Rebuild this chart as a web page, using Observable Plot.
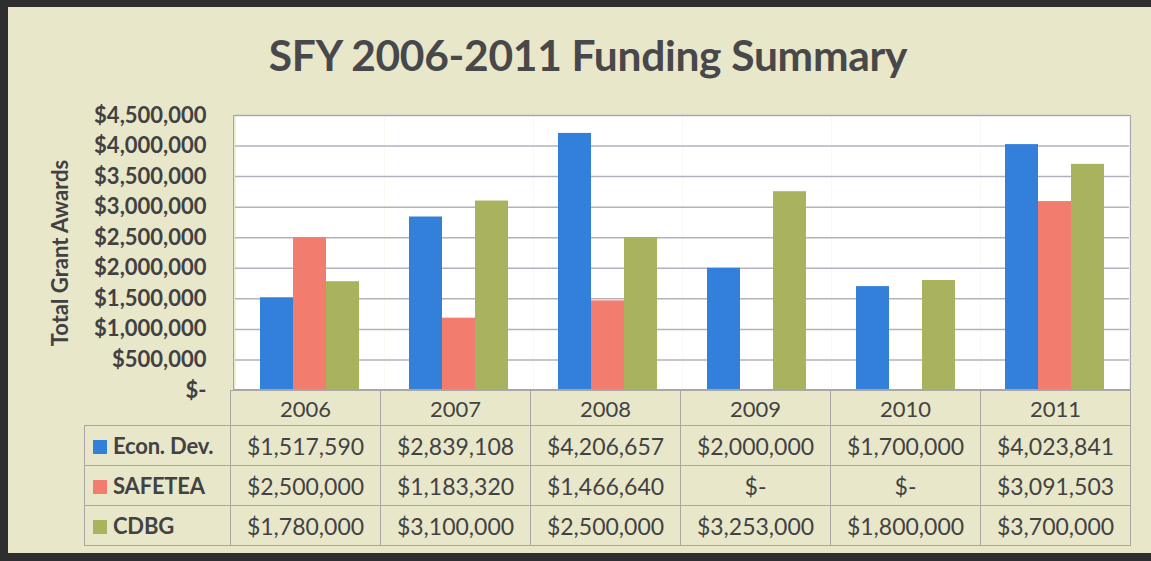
<!DOCTYPE html>
<html>
<head>
<meta charset="utf-8">
<script src="https://cdn.jsdelivr.net/npm/d3@7"></script>
<script src="https://cdn.jsdelivr.net/npm/@observablehq/plot@0.6"></script>
<style>
  html, body { margin: 0; padding: 0; background: #2e2e30; }
  #wrap { position: relative; width: 1151px; height: 561px; overflow: hidden; }
  #panel { position: absolute; left: 8px; top: 7px; width: 1143px; height: 546px; background: #e9e7c9; }
  #title { position: absolute; left: 0; top: 29px; width: 1176px; text-align: center;
           font-family: Lato, "Open Sans", sans-serif; font-weight: 700; font-size: 42.5px; color: #48484a; letter-spacing: -0.3px; }
  #chart { position: absolute; left: 0; top: 0; }
  #plotborder { position: absolute; left: 233px; top: 115px; width: 898px; height: 275px; border: 1px solid #a8a4a8; box-sizing: border-box; pointer-events: none; }
  table#data { position: absolute; left: 84px; top: 390px; border-collapse: collapse;
               font-family: Lato, "Open Sans", sans-serif; font-size: 23px; color: #424244; }
  table#data td { border: 1.5px solid #aaa6a4; text-align: center; padding: 0; height: 39px; width: 149px; white-space: nowrap; }
  table#data tr.head td { height: 34px; font-size: 22px; }
  table#data td.blank { border: none; border-bottom: 1.5px solid #aaa6a4; border-right: 1.5px solid #aaa6a4; width: 145px; }
  table#data td.lab { text-align: left; padding-left: 8px; font-weight: 700; width: 137px; font-size: 22px; letter-spacing: -0.2px; }
  .key { display: inline-block; width: 14px; height: 14px; margin-right: 6px; vertical-align: 0px; }
</style>
</head>
<body>
<div id="wrap">
  <div id="panel"></div>
  <div id="title">SFY 2006-2011 Funding Summary</div>
  <div id="chart"></div>
  <div id="plotborder"></div>
  <table id="data"></table>
</div>
<script>
const years = ["2006", "2007", "2008", "2009", "2010", "2011"];
const seriesNames = ["Econ. Dev.", "SAFETEA", "CDBG"];
const seriesColors = ["#3280da", "#f27c6e", "#a9b35d"];
const econDev = [1517590, 2839108, 4206657, 2000000, 1700000, 4023841];
const safetea = [2500000, 1183320, 1466640, 0, 0, 3091503];
const cdbg = [1780000, 3100000, 2500000, 3253000, 1800000, 3700000];
const yTicks = [0, 500000, 1000000, 1500000, 2000000, 2500000, 3000000, 3500000, 4000000, 4500000];

const seriesValues = [econDev, safetea, cdbg];
const rows = [];
seriesNames.forEach((s, i) => years.forEach((y, j) => rows.push({year: y, series: s, value: seriesValues[i][j]})));

const money = v => v === 0 ? "$-" : "$" + d3.format(",")(v);

const chart = Plot.plot({
  width: 1151,
  height: 390,
  marginTop: 115,
  marginBottom: 0,
  marginLeft: 233,
  marginRight: 20,
  style: {fontFamily: "Lato, 'Open Sans', sans-serif", fontSize: "22px", fontWeight: 700, color: "#414143", background: "transparent", overflow: "visible"},
  fx: {domain: years, padding: 0, axis: null, label: null},
  x: {domain: seriesNames, paddingInner: 0, paddingOuter: 0.7, axis: null},
  y: {domain: [0, 4500000], ticks: yTicks, tickFormat: money, tickSize: 0, tickPadding: 29,
      label: "Total Grant Awards", labelAnchor: "center", labelArrow: "none", labelOffset: 183},
  color: {domain: seriesNames, range: seriesColors},
  marks: [
    Plot.frame({fill: "white", stroke: null}),
    Plot.ruleY(yTicks.slice(1), {stroke: "#b5b0bc", strokeWidth: 1.5}),
    Plot.barY(rows, {fx: "year", x: "series", y: "value", fill: "series"})
  ]
});
document.getElementById("chart").appendChild(chart);

// data table below the plot, aligned with the bar groups
const table = d3.select("#data");
const head = table.append("tr").attr("class", "head");
head.append("td").attr("class", "blank");
years.forEach(y => head.append("td").text(y));
seriesNames.forEach((s, i) => {
  const tr = table.append("tr");
  const lab = tr.append("td").attr("class", "lab");
  lab.append("span").attr("class", "key").style("background", seriesColors[i]);
  lab.append("span").text(s);
  seriesValues[i].forEach(v => tr.append("td").text(money(v)));
});
</script>
</body>
</html>
